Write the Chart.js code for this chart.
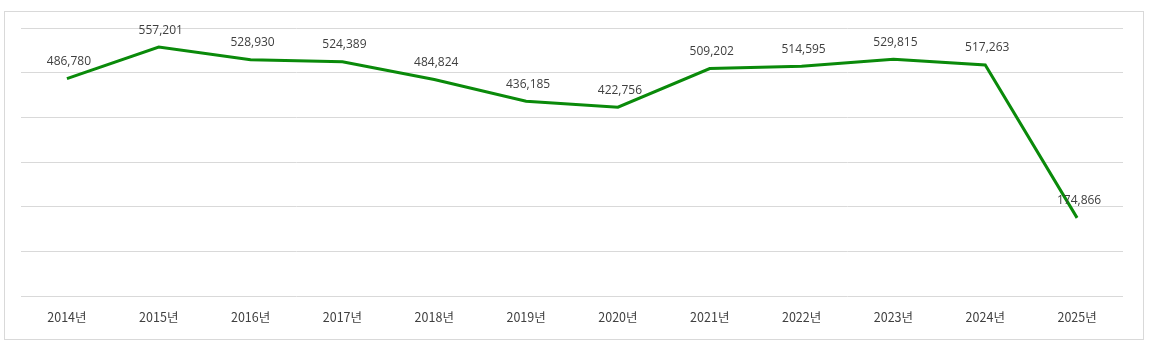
<!DOCTYPE html>
<html>
<head>
<meta charset="utf-8">
<script src="https://cdn.jsdelivr.net/npm/chart.js@4/dist/chart.umd.min.js"></script>
<style>
  html, body { margin: 0; padding: 0; background: #fff; }
  #wrap {
    position: absolute; left: 4px; top: 11px;
    width: 1138px; height: 327px;
    border: 1px solid #d9d9d9;
  }
</style>
</head>
<body>
<div id="wrap"><canvas id="line-chart"></canvas></div>
<script>
var years = ['2014년', '2015년', '2016년', '2017년', '2018년', '2019년',
             '2020년', '2021년', '2022년', '2023년', '2024년', '2025년'];
var counts = [486780, 557201, 528930, 524389, 484824, 436185,
              422756, 509202, 514595, 529815, 517263, 174866];
var yMin = 0, yMax = 600000, yStep = 100000;

var fontFamily = "'Open Sans', 'Noto Sans CJK KR', sans-serif";

// value labels above each point
var pointLabels = {
    id: 'pointLabels',
    afterDatasetsDraw: function (chart) {
        var ctx = chart.ctx;
        var meta = chart.getDatasetMeta(0);
        ctx.save();
        ctx.font = '12px ' + fontFamily;
        ctx.fillStyle = '#404040';
        ctx.textAlign = 'center';
        ctx.textBaseline = 'middle';
        meta.data.forEach(function (pt, i) {
            ctx.fillText(counts[i].toLocaleString('en-US'), pt.x + 2, pt.y - 17);
        });
        ctx.restore();
    }
};

var lineContext = document.getElementById('line-chart').getContext('2d');

var lineChart = new Chart(lineContext, {
    type: 'line',
    data: {
        labels: years,
        datasets: [{
            data: counts,
            borderColor: '#0a8a0a',
            borderWidth: 3,
            pointRadius: 0,
            tension: 0,
            fill: false
        }]
    },
    options: {
        responsive: true,
        maintainAspectRatio: false,
        animation: false,
        layout: {
            padding: { left: 16, right: 20, top: 16, bottom: 0 }
        },
        plugins: {
            legend: { display: false },
            tooltip: { enabled: false }
        },
        scales: {
            x: {
                offset: true,
                grid: { display: false, drawTicks: false },
                border: { display: false },
                ticks: {
                    padding: 14,
                    color: '#404040',
                    font: { family: "'Noto Sans CJK KR', sans-serif", size: 12.5 }
                }
            },
            y: {
                min: yMin,
                max: yMax,
                ticks: { stepSize: yStep, display: false },
                grid: { color: '#d9d9d9', lineWidth: 1, drawTicks: false },
                border: { display: false }
            }
        }
    },
    plugins: [pointLabels]
});
</script>
</body>
</html>
